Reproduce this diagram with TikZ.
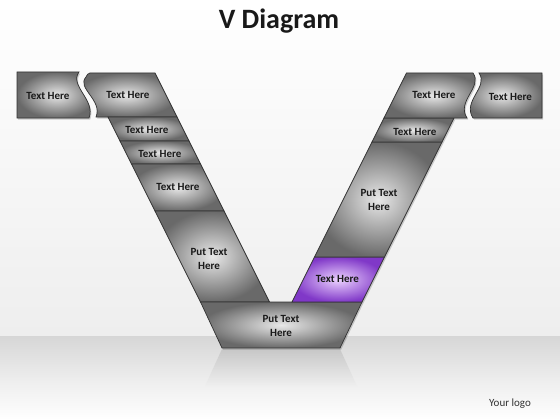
\documentclass[tikz,border=0pt]{standalone}
\usepackage{fontspec}
\setmainfont{Carlito}
\definecolor{segin}{RGB}{232,232,232}
\definecolor{segout}{RGB}{105,105,105}
\definecolor{purin}{RGB}{236,210,255}
\definecolor{purout}{RGB}{128,56,200}
\definecolor{edge}{RGB}{50,50,50}
\definecolor{floortop}{RGB}{214,214,214}
\definecolor{skylow}{RGB}{238,238,238}
% shape outlines (pixel coordinates, y downwards)
\newcommand\PLbox{(17,72) -- (79,72) .. controls (69,86) and (96,100) .. (89,118) -- (17,118) -- cycle}
\newcommand\PLa{(90,73) -- (155,73) -- (177,117) -- (96,117) .. controls (103,100) and (76,88) .. (86,77) .. controls (87,75) and (88,73) .. (90,73) -- cycle}
\newcommand\PLb{(108,117) -- (177,117) -- (189,141) -- (120,141) -- cycle}
\newcommand\PLc{(120,141) -- (189,141) -- (200.5,164) -- (131.5,164) -- cycle}
\newcommand\PLd{(131.5,164) -- (200.5,164) -- (224,211) -- (155,211) -- cycle}
\newcommand\PLe{(155,211) -- (224,211) -- (269.5,302) -- (200.5,302) -- cycle}
\newcommand\PBot{(200.5,302) -- (362,302) -- (340,348) -- (222,348) -- cycle}
\newcommand\PRd{(292,302) -- (314.5,257) -- (384.5,257) -- (362,302) -- cycle}
\newcommand\PRc{(314.5,257) -- (372,142) -- (442,142) -- (384.5,257) -- cycle}
\newcommand\PRb{(372,142) -- (384,118) -- (454,118) -- (442,142) -- cycle}
\newcommand\PRa{(384,118) -- (406.5,73) -- (473,73) .. controls (483,87) and (456,101) .. (467,118) -- cycle}
\newcommand\PRbox{(479,73) -- (542,73) -- (542,118) -- (473,118) .. controls (462,101) and (489,87) .. (479,73) -- cycle}
\begin{document}
\begin{tikzpicture}[x=1pt,y=-1pt,
  segsty/.style={draw=edge, line width=0.7pt, inner color=segin, outer color=segout},
  pursty/.style={draw=edge, line width=0.7pt, inner color=purin, outer color=purout},
  shadowsty/.style={fill=black, opacity=0.18},
  lab/.style={font=\fontsize{11}{13.5}\selectfont\bfseries, text=black!90, align=center, inner sep=0pt}]
\useasboundingbox (0,0) rectangle (560,420);
% background
\shade[top color=white, bottom color=skylow] (0,0) rectangle (560,336);
\shade[top color=floortop, bottom color=white, middle color=floortop!45] (0,336) rectangle (560,420);
% reflection of the bottom piece
\shade[top color=black!30, bottom color=floortop!40, opacity=0.5] (222,349) -- (340,349) -- (357,386) -- (205,386) -- cycle;
% shadows
\foreach \p in {\PLbox,\PLa,\PLb,\PLc,\PLd,\PLe,\PBot,\PRd,\PRc,\PRb,\PRa,\PRbox}{
  \fill[shadowsty, shift={(1.2,1.6)}] \p;
}
% shapes
\shadedraw[segsty] \PLbox;
\shadedraw[segsty] \PLa;
\shadedraw[segsty] \PLb;
\shadedraw[segsty] \PLc;
\shadedraw[segsty] \PLd;
\shadedraw[segsty] \PLe;
\shadedraw[segsty] \PBot;
\shadedraw[pursty] \PRd;
\shadedraw[segsty] \PRc;
\shadedraw[segsty] \PRb;
\shadedraw[segsty] \PRa;
\shadedraw[segsty] \PRbox;
% labels
\node[font=\fontsize{28}{32}\selectfont\bfseries, text=black!90, inner sep=0pt, anchor=base] (title) at (279,29) {V Diagram};
\node[lab] (tLbox) at (48,96) {Text Here};
\node[lab] (tLa) at (128,95) {Text Here};
\node[lab] (tLb) at (147,130) {Text Here};
\node[lab] (tLc) at (160,154) {Text Here};
\node[lab] (tLd) at (178,187) {Text Here};
\node[lab] (tLe) at (209,259) {Put Text\\Here};
\node[lab] (tBot) at (281,326) {Put Text\\Here};
\node[lab] (tRd) at (337.5,279) {Text Here};
\node[lab] (tRc) at (379,200) {Put Text\\Here};
\node[lab] (tRb) at (415,132) {Text Here};
\node[lab] (tRa) at (434,95) {Text Here};
\node[lab] (tRbox) at (510.5,97) {Text Here};
\node[font=\fontsize{11}{13}\selectfont, text=black!80, inner sep=0pt] (logo) at (510,404) {Your logo};
\end{tikzpicture}
\end{document}
